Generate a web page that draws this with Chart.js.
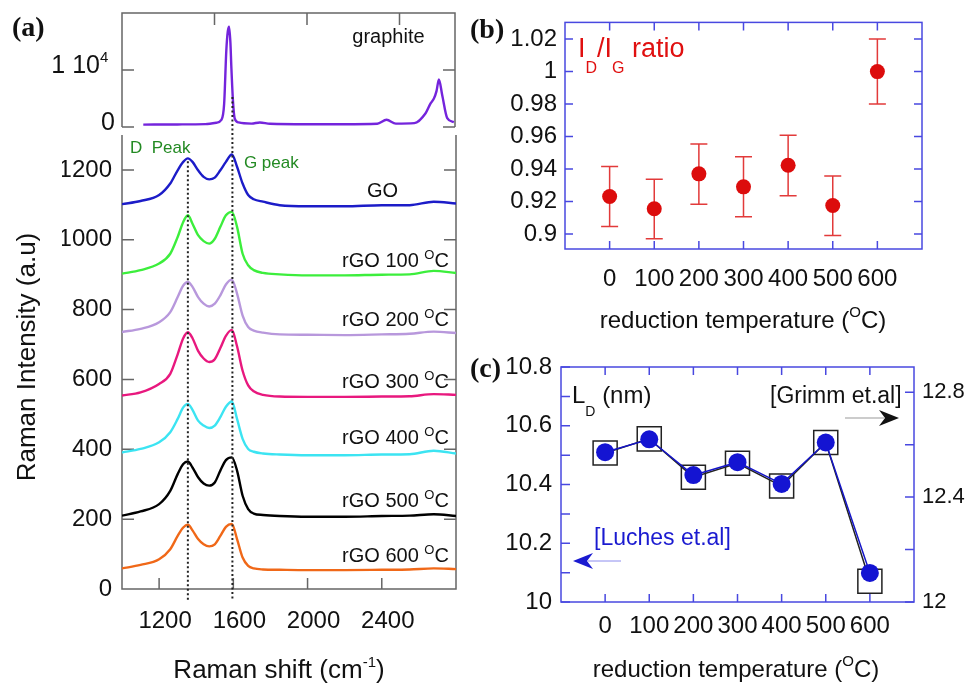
<!DOCTYPE html>
<html>
<head>
<meta charset="utf-8">
<script src="https://cdn.jsdelivr.net/npm/chart.js@4.4.1/dist/chart.umd.min.js"></script>
<style>
  html, body { margin: 0; padding: 0; background: #fff; }
  #wrap { position: relative; width: 969px; height: 684px; overflow: hidden; background: #fff; }
  #wrap canvas { position: absolute; left: 0; top: 0; }
</style>
</head>
<body>
<div id="wrap">
  <canvas id="graphiteChart" width="969" height="684"></canvas>
  <canvas id="ramanChart" width="969" height="684"></canvas>
  <canvas id="ratioChart" width="969" height="684"></canvas>
  <canvas id="ldChart" width="969" height="684"></canvas>
</div>
<script>
// ---- Panel (a): Raman spectra ----
const shiftX = [1000, 1100, 1200, 1260, 1300, 1330, 1355, 1380, 1410, 1440, 1470, 1500, 1530, 1560, 1592, 1620, 1650, 1680, 1710, 1760, 1850, 2000, 2200, 2400, 2550, 2680, 2800];
const goY     = [1102, 1111, 1128, 1161, 1199, 1223, 1233, 1223, 1199, 1180, 1173, 1178, 1199, 1223, 1244, 1209, 1161, 1128, 1116, 1109, 1099, 1096, 1096, 1099, 1099, 1109, 1104];
const rgo100Y = [903, 913, 932, 960, 1008, 1051, 1070, 1046, 1013, 996, 989, 1003, 1037, 1070, 1080, 1037, 960, 927, 913, 905, 901, 898, 898, 900, 901, 911, 905];
const rgo200Y = [736, 745, 764, 793, 836, 869, 879, 865, 836, 817, 809, 817, 841, 872, 886, 846, 783, 750, 740, 734, 729, 728, 727, 729, 731, 737, 733];
const rgo300Y = [554, 563, 587, 616, 672, 718, 735, 718, 682, 660, 650, 658, 690, 725, 742, 695, 625, 583, 566, 556, 551, 550, 550, 551, 552, 558, 556];
const rgo400Y = [391, 401, 420, 449, 487, 520, 530, 513, 482, 468, 461, 468, 492, 522, 537, 487, 430, 401, 393, 388, 385, 383, 383, 385, 386, 396, 388];
const rgo500Y = [210, 222, 243, 281, 329, 358, 365, 348, 320, 302, 296, 305, 339, 369, 377, 339, 267, 229, 216, 212, 209, 207, 207, 209, 210, 214, 209];
const rgo600Y = [59, 69, 85, 114, 152, 176, 184, 168, 143, 128, 122, 128, 152, 178, 186, 143, 90, 66, 59, 56, 55, 54, 54, 55, 56, 59, 57];

const sampleNames = ['GO', 'rGO 100', 'rGO 200', 'rGO 300', 'rGO 400', 'rGO 500', 'rGO 600'];
const spectraY = [goY, rgo100Y, rgo200Y, rgo300Y, rgo400Y, rgo500Y, rgo600Y];

const graphiteX = [1115, 1300, 1450, 1510, 1537, 1552, 1564, 1572, 1579, 1586, 1591, 1600, 1609, 1630, 1700, 1745, 1800, 2000, 2200, 2380, 2430, 2480, 2580, 2641, 2668, 2686, 2700, 2713, 2731, 2758, 2794];
const graphiteY = [420, 450, 500, 750, 1230, 4000, 13500, 16800, 17600, 14800, 10600, 4500, 1530, 800, 600, 800, 560, 480, 480, 560, 1260, 600, 680, 2410, 4140, 5000, 6300, 8330, 5570, 1550, 860];

const ramanXTicks = [1200, 1600, 2000, 2400];
const ramanYTicks = [0, 200, 400, 600, 800, 1000, 1200];
const graphiteXTicks = [1500, 2000, 2500];
const graphiteYTicks = [0, 10000];
const peakD = 1355;
const peakG = 1595;

// ---- Panel (b): ID/IG ratio ----
const temps = [0, 100, 200, 300, 400, 500, 600];
const ratioValues = [0.923, 0.9155, 0.937, 0.929, 0.9423, 0.9175, 1.0];
const ratioLow    = [0.9046, 0.897, 0.9183, 0.9106, 0.9235, 0.899, 0.98];
const ratioHigh   = [0.9415, 0.9336, 0.9554, 0.9475, 0.9608, 0.9356, 1.02];
const ratioTicks  = [0.9, 0.92, 0.94, 0.96, 0.98, 1, 1.02];

// ---- Panel (c): LD ----
const ldLuches = [10.51, 10.554, 10.432, 10.476, 10.402, 10.543, 10.099];
const ldGrimm  = [12.568, 12.622, 12.476, 12.529, 12.442, 12.608, 12.079];
const ldLeftTicks  = [10, 10.2, 10.4, 10.6, 10.8];
const ldLeftMarks  = [10, 10.1, 10.2, 10.3, 10.4, 10.5, 10.6, 10.7, 10.8];
const ldRightTicks = [12, 12.4, 12.8];
const ldRightMarks = [12, 12.2, 12.4, 12.6, 12.8];

// ---- Shared styling ----
const FONT = "'Liberation Sans', Arial, Helvetica, sans-serif";
const SERIF = "'Liberation Serif', 'Times New Roman', serif";
const GRAY = '#666';
const BLUE_FRAME = '#4848e0';
const TXT = '#111';

const toPoints = (xs, ys) => xs.map((x, i) => ({ x, y: ys[i] }));
const fmt = v => String(+Number(v).toFixed(2));
const fixTicks = list => s => { s.ticks = list.map(v => ({ value: v })); };

// draw a run of text pieces: [text, size, dy]
function textRun(ctx, parts, x, y, align) {
    let total = 0;
    const widths = parts.map(p => {
        ctx.font = p[1] + 'px ' + FONT;
        const w = ctx.measureText(p[0]).width;
        total += w;
        return w;
    });
    let cx = align === 'center' ? x - total / 2 : (align === 'right' ? x - total : x);
    ctx.textAlign = 'left';
    parts.forEach((p, i) => {
        ctx.font = p[1] + 'px ' + FONT;
        ctx.fillText(p[0], cx, y + (p[2] || 0));
        cx += widths[i];
    });
}

function panelLabel(ctx, t, x, y) {
    ctx.font = 'bold 28px ' + SERIF;
    ctx.fillStyle = '#111';
    ctx.textAlign = 'left';
    ctx.textBaseline = 'alphabetic';
    ctx.fillText(t, x, y);
}

function arrowHead(ctx, tipX, tipY, dir) {
    ctx.beginPath();
    ctx.moveTo(tipX, tipY);
    ctx.lineTo(tipX - dir * 20, tipY - 8);
    ctx.lineTo(tipX - dir * 14, tipY);
    ctx.lineTo(tipX - dir * 20, tipY + 8);
    ctx.closePath();
    ctx.fill();
}

const baseOptions = {
    responsive: false,
    animation: false,
    events: [],
    plugins: { legend: { display: false }, tooltip: { enabled: false } }
};

// ---- (a) top: graphite ----
const graphiteDecor = {
    id: 'graphiteDecor',
    beforeDatasetsDraw(chart) {
        const { ctx, chartArea: a, scales: { x, y } } = chart;
        ctx.save();
        ctx.strokeStyle = GRAY;
        ctx.lineWidth = 1.5;
        ctx.beginPath();
        ctx.moveTo(a.left, a.bottom); ctx.lineTo(a.left, a.top);
        ctx.lineTo(a.right, a.top); ctx.lineTo(a.right, a.bottom);
        graphiteYTicks.forEach(v => {
            const py = y.getPixelForValue(v);
            ctx.moveTo(a.left, py); ctx.lineTo(a.left + 12, py);
            ctx.moveTo(a.right, py); ctx.lineTo(a.right - 12, py);
        });
        graphiteXTicks.forEach(v => {
            const px = x.getPixelForValue(v);
            ctx.moveTo(px, a.top); ctx.lineTo(px, a.top + 12);
        });
        ctx.stroke();

        ctx.fillStyle = TXT;
        ctx.textBaseline = 'middle';
        const p0 = y.getPixelForValue(0), p1 = y.getPixelForValue(10000);
        textRun(ctx, [['0', 25]], a.left - 7, p0 - 4, 'right');
        textRun(ctx, [['1 10', 25]], a.left - 22, p1 - 4, 'right');
        ctx.textBaseline = 'alphabetic';
        textRun(ctx, [['4', 15]], a.left - 22, p1 - 8, 'left');
        textRun(ctx, [['graphite', 20]], x.getPixelForValue(2245), y.getPixelForValue(14700), 'left');
        panelLabel(ctx, '(a)', 12, 36);
        ctx.restore();
    }
};

const graphiteChart = new Chart(document.getElementById('graphiteChart'), {
    type: 'line',
    data: {
        datasets: [{
            data: toPoints(graphiteX, graphiteY),
            borderColor: '#7424dc',
            borderWidth: 2.4,
            pointRadius: 0,
            cubicInterpolationMode: 'monotone'
        }]
    },
    options: {
        ...baseOptions,
        layout: { padding: { left: 122, right: 514, top: 13, bottom: 557 } },
        scales: {
            x: { type: 'linear', display: false, min: 1000, max: 2800 },
            y: { display: false, min: 0, max: 20000 }
        }
    },
    plugins: [graphiteDecor]
});

// ---- (a) main: stacked spectra ----
const sampleColors = ['#1c1cc8', '#3cee3c', '#b898dc', '#e8187e', '#3ce4f2', '#000000', '#f06818'];

const ramanDecor = {
    id: 'ramanDecor',
    beforeDatasetsDraw(chart) {
        const { ctx, chartArea: a, scales: { x, y } } = chart;
        ctx.save();
        ctx.strokeStyle = GRAY;
        ctx.lineWidth = 1.5;
        ctx.beginPath();
        ctx.moveTo(a.left, a.top); ctx.lineTo(a.left, a.bottom);
        ctx.lineTo(a.right, a.bottom); ctx.lineTo(a.right, a.top);
        ramanYTicks.forEach(v => {
            const py = y.getPixelForValue(v);
            ctx.moveTo(a.left, py); ctx.lineTo(a.left + 12, py);
            ctx.moveTo(a.right, py); ctx.lineTo(a.right - 12, py);
        });
        ramanXTicks.forEach(v => {
            const px = x.getPixelForValue(v);
            ctx.moveTo(px, a.bottom); ctx.lineTo(px, a.bottom - 11);
        });
        ctx.stroke();
        ctx.restore();
    },
    afterDatasetsDraw(chart) {
        const { ctx, chartArea: a, scales: { x, y } } = chart;
        ctx.save();
        // dotted D / G guide lines
        ctx.setLineDash([2, 2.5]);
        ctx.lineWidth = 2;
        ctx.strokeStyle = '#222';
        ctx.beginPath();
        const dx = x.getPixelForValue(peakD), gx = x.getPixelForValue(peakG);
        ctx.moveTo(dx, y.getPixelForValue(1225)); ctx.lineTo(dx, a.bottom + 11);
        ctx.moveTo(gx, graphiteChart.scales.y.getPixelForValue(5260)); ctx.lineTo(gx, a.bottom + 11);
        ctx.stroke();
        ctx.setLineDash([]);

        // sample labels
        ctx.fillStyle = TXT;
        ctx.textBaseline = 'alphabetic';
        const labelAt = [[2320, 1122], [2186, 922], [2186, 753], [2186, 576], [2186, 415], [2186, 235], [2186, 77]];
        sampleNames.forEach((name, i) => {
            const px = x.getPixelForValue(labelAt[i][0]);
            const py = y.getPixelForValue(labelAt[i][1]);
            if (i === 0) textRun(ctx, [[name, 20]], px, py, 'left');
            else textRun(ctx, [[name + ' ', 20], ['O', 13, -8], ['C', 20]], px, py, 'left');
        });

        // peak names
        ctx.fillStyle = '#238a23';
        textRun(ctx, [['D  Peak', 17]], x.getPixelForValue(1043), y.getPixelForValue(1249), 'left');
        textRun(ctx, [['G peak', 17]], x.getPixelForValue(1657), y.getPixelForValue(1206), 'left');

        // axis titles
        ctx.fillStyle = TXT;
        textRun(ctx, [['Raman shift (cm', 26], ['-1', 15, -11], [')', 26]], 279, 678, 'center');
        ctx.translate(28, 357);
        ctx.rotate(-Math.PI / 2);
        ctx.textBaseline = 'middle';
        textRun(ctx, [['Raman Intensity (a.u)', 26]], 0, 0, 'center');
        ctx.restore();
    }
};

new Chart(document.getElementById('ramanChart'), {
    type: 'line',
    data: {
        datasets: spectraY.map((ys, i) => ({
            label: sampleNames[i],
            data: toPoints(shiftX, ys),
            borderColor: sampleColors[i],
            borderWidth: 2.4,
            pointRadius: 0,
            cubicInterpolationMode: 'monotone'
        }))
    },
    options: {
        ...baseOptions,
        layout: { padding: { left: 62, right: 513, top: 135, bottom: 35 } },
        scales: {
            x: {
                type: 'linear', min: 1000, max: 2800,
                afterBuildTicks: fixTicks(ramanXTicks),
                afterFit: s => { s.height = 60; },
                grid: { display: false, drawTicks: false },
                border: { display: false },
                ticks: { color: TXT, font: { family: FONT, size: 24 }, padding: 18, labelOffset: 6, maxRotation: 0, autoSkip: false, callback: fmt }
            },
            y: {
                min: 0, max: 1300,
                afterBuildTicks: fixTicks(ramanYTicks),
                afterFit: s => { s.width = 60; },
                grid: { display: false, drawTicks: false },
                border: { display: false },
                ticks: { color: TXT, font: { family: FONT, size: 24 }, padding: 10, autoSkip: false, callback: fmt }
            }
        }
    },
    plugins: [ramanDecor]
});

// ---- (b) ID/IG ratio ----
const ratioDecor = {
    id: 'ratioDecor',
    beforeDatasetsDraw(chart) {
        const { ctx, chartArea: a, scales: { x, y } } = chart;
        ctx.save();
        ctx.strokeStyle = BLUE_FRAME;
        ctx.lineWidth = 1.5;
        ctx.strokeRect(a.left, a.top, a.right - a.left, a.bottom - a.top);
        ctx.beginPath();
        ratioTicks.forEach(v => {
            const py = y.getPixelForValue(v);
            ctx.moveTo(a.left, py); ctx.lineTo(a.left + 8, py);
            ctx.moveTo(a.right, py); ctx.lineTo(a.right - 8, py);
        });
        temps.forEach(v => {
            const px = x.getPixelForValue(v);
            ctx.moveTo(px, a.top); ctx.lineTo(px, a.top + 8);
            ctx.moveTo(px, a.bottom); ctx.lineTo(px, a.bottom - 8);
        });
        ctx.stroke();

        // error bars
        ctx.strokeStyle = '#e23a3a';
        ctx.lineWidth = 1.5;
        ctx.beginPath();
        temps.forEach((t, i) => {
            const px = x.getPixelForValue(t);
            const lo = y.getPixelForValue(ratioLow[i]), hi = y.getPixelForValue(ratioHigh[i]);
            ctx.moveTo(px, lo); ctx.lineTo(px, hi);
            ctx.moveTo(px - 8.5, lo); ctx.lineTo(px + 8.5, lo);
            ctx.moveTo(px - 8.5, hi); ctx.lineTo(px + 8.5, hi);
        });
        ctx.stroke();
        ctx.restore();
    },
    afterDraw(chart) {
        const { ctx } = chart;
        ctx.save();
        ctx.textBaseline = 'alphabetic';
        ctx.fillStyle = '#e01010';
        textRun(ctx, [['I', 27], ['D', 16, 16], ['/I', 27], ['G', 16, 16], [' ratio', 27]], 578, 57, 'left');
        ctx.fillStyle = TXT;
        textRun(ctx, [['reduction temperature (', 24], ['O', 15, -11], ['C)', 24]], 743, 328, 'center');
        panelLabel(ctx, '(b)', 470, 38);
        ctx.restore();
    }
};

new Chart(document.getElementById('ratioChart'), {
    type: 'scatter',
    data: {
        datasets: [{
            data: toPoints(temps, ratioValues),
            pointRadius: 7.5,
            pointBackgroundColor: '#dc0c0c',
            pointBorderWidth: 0,
            showLine: false
        }]
    },
    options: {
        ...baseOptions,
        layout: { padding: { left: 505, right: 47, top: 15, bottom: 385 } },
        scales: {
            x: {
                type: 'linear', min: -100, max: 700,
                afterBuildTicks: fixTicks(temps),
                afterFit: s => { s.height = 50; },
                grid: { display: false, drawTicks: false },
                border: { display: false },
                ticks: { color: TXT, font: { family: FONT, size: 24 }, padding: 16, maxRotation: 0, autoSkip: false, callback: fmt }
            },
            y: {
                min: 0.8907, max: 1.0303,
                afterBuildTicks: fixTicks(ratioTicks),
                afterFit: s => { s.width = 60; },
                grid: { display: false, drawTicks: false },
                border: { display: false },
                ticks: { color: TXT, font: { family: FONT, size: 24 }, padding: 8, autoSkip: false, callback: fmt }
            }
        }
    },
    plugins: [ratioDecor]
});

// ---- (c) LD ----
const ldDecor = {
    id: 'ldDecor',
    beforeDatasetsDraw(chart) {
        const { ctx, chartArea: a, scales: { x, y, y2 } } = chart;
        ctx.save();
        ctx.strokeStyle = BLUE_FRAME;
        ctx.lineWidth = 1.5;
        ctx.strokeRect(a.left, a.top, a.right - a.left, a.bottom - a.top);
        ctx.beginPath();
        ldLeftMarks.forEach(v => {
            const py = y.getPixelForValue(v);
            ctx.moveTo(a.left, py); ctx.lineTo(a.left + 9, py);
        });
        ldRightMarks.forEach(v => {
            const py = y2.getPixelForValue(v);
            ctx.moveTo(a.right, py); ctx.lineTo(a.right - 9, py);
        });
        temps.forEach(v => {
            const px = x.getPixelForValue(v);
            ctx.moveTo(px, a.top); ctx.lineTo(px, a.top + 8);
            ctx.moveTo(px, a.bottom); ctx.lineTo(px, a.bottom - 8);
        });
        ctx.stroke();
        ctx.restore();
    },
    afterDraw(chart) {
        const { ctx } = chart;
        ctx.save();
        ctx.textBaseline = 'alphabetic';
        ctx.fillStyle = TXT;
        textRun(ctx, [['L', 24], ['D', 14, 13], [' (nm)', 24]], 572, 403, 'left');
        textRun(ctx, [['[Grimm et.al]', 23]], 770, 403, 'left');
        textRun(ctx, [['reduction temperature (', 24], ['O', 15, -11], ['C)', 24]], 736, 677, 'center');

        ctx.fillStyle = '#1a1ad0';
        textRun(ctx, [['[Luches et.al]', 23]], 594, 545, 'left');

        // pointer arrows
        ctx.lineWidth = 1;
        ctx.strokeStyle = '#999';
        ctx.beginPath(); ctx.moveTo(845, 418); ctx.lineTo(884, 418); ctx.stroke();
        ctx.fillStyle = '#111';
        arrowHead(ctx, 899, 418, 1);
        ctx.strokeStyle = '#8c8cee';
        ctx.beginPath(); ctx.moveTo(588, 561); ctx.lineTo(621, 561); ctx.stroke();
        ctx.fillStyle = '#1a1ad0';
        arrowHead(ctx, 573, 561, -1);

        panelLabel(ctx, '(c)', 470, 377);
        ctx.restore();
    }
};

new Chart(document.getElementById('ldChart'), {
    type: 'line',
    data: {
        datasets: [{
            label: 'Luches et.al',
            data: toPoints(temps, ldLuches),
            yAxisID: 'y',
            borderColor: '#1515c8',
            borderWidth: 1.5,
            pointRadius: 9,
            pointBackgroundColor: '#1414d2',
            pointBorderWidth: 0,
            tension: 0
        }, {
            label: 'Grimm et.al',
            data: toPoints(temps, ldGrimm),
            yAxisID: 'y2',
            borderColor: '#222',
            borderWidth: 1.5,
            pointStyle: 'rect',
            pointRadius: 17,
            pointBackgroundColor: 'rgba(0,0,0,0)',
            pointBorderColor: '#222',
            pointBorderWidth: 1.5,
            tension: 0
        }]
    },
    options: {
        ...baseOptions,
        layout: { padding: { left: 501, right: 3, top: 367, bottom: 32 } },
        scales: {
            x: {
                type: 'linear', min: -100, max: 700,
                afterBuildTicks: fixTicks(temps),
                afterFit: s => { s.height = 50; },
                grid: { display: false, drawTicks: false },
                border: { display: false },
                ticks: { color: TXT, font: { family: FONT, size: 24 }, padding: 10, maxRotation: 0, autoSkip: false, callback: fmt }
            },
            y: {
                min: 10, max: 10.8,
                afterBuildTicks: fixTicks(ldLeftTicks),
                afterFit: s => { s.width = 60; },
                grid: { display: false, drawTicks: false },
                border: { display: false },
                ticks: { color: TXT, font: { family: FONT, size: 24 }, padding: 9, autoSkip: false, callback: fmt }
            },
            y2: {
                position: 'right',
                min: 12, max: 12.896,
                afterBuildTicks: fixTicks(ldRightTicks),
                afterFit: s => { s.width = 52; },
                grid: { display: false, drawTicks: false },
                border: { display: false },
                ticks: { color: TXT, font: { family: FONT, size: 22 }, padding: 8, autoSkip: false, callback: fmt }
            }
        }
    },
    plugins: [ldDecor]
});
</script>
</body>
</html>
